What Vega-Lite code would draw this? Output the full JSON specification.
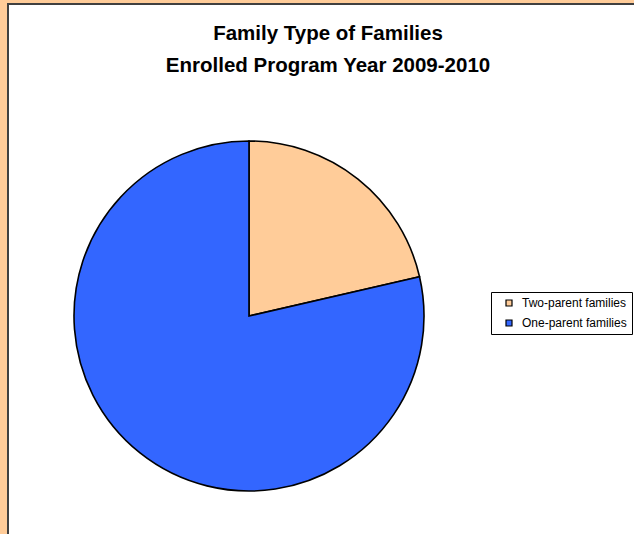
{
  "$schema": "https://vega.github.io/schema/vega-lite/v6.json",
  "width": 640,
  "height": 540,
  "autosize": "none",
  "padding": {"left": 8, "top": 4, "right": 0, "bottom": 0},
  "background": "#FFCC99",
  "view": {"fill": "#FFFFFF", "stroke": "#404040", "strokeWidth": 2},
  "config": {
    "font": "Liberation Sans"
  },
  "title": {
    "text": ["Family Type of Families", "Enrolled Program Year 2009-2010"],
    "anchor": "middle",
    "frame": "group",
    "orient": "top",
    "baseline": "top",
    "offset": -18,
    "dy": 54,
    "fontSize": 20.5,
    "fontWeight": "bold",
    "lineHeight": 32,
    "color": "#000000"
  },
  "data": {
    "values": [
      {"type": "Two-parent families", "percent": 21.4, "ord": 1},
      {"type": "One-parent families", "percent": 78.6, "ord": 2}
    ]
  },
  "mark": {
    "type": "arc",
    "outerRadius": 175,
    "x": 241,
    "y": 312,
    "stroke": "#000000",
    "strokeWidth": 1.6
  },
  "encoding": {
    "theta": {"field": "percent", "type": "quantitative", "stack": true},
    "order": {"field": "ord", "type": "quantitative"},
    "color": {
      "field": "type",
      "type": "nominal",
      "scale": {
        "domain": ["Two-parent families", "One-parent families"],
        "range": ["#FFCC99", "#3366FF"]
      },
      "legend": {
        "title": null,
        "orient": "none",
        "legendX": 483,
        "legendY": 288,
        "symbolType": "square",
        "symbolSize": 36,
        "symbolStrokeColor": "#000000",
        "symbolStrokeWidth": 1.2,
        "symbolOffset": 7,
        "labelFontSize": 12,
        "labelColor": "#000000",
        "labelOffset": 7,
        "padding": 5,
        "rowPadding": 8,
        "fillColor": "#FFFFFF",
        "strokeColor": "#000000",
        "cornerRadius": 0
      }
    }
  }
}
